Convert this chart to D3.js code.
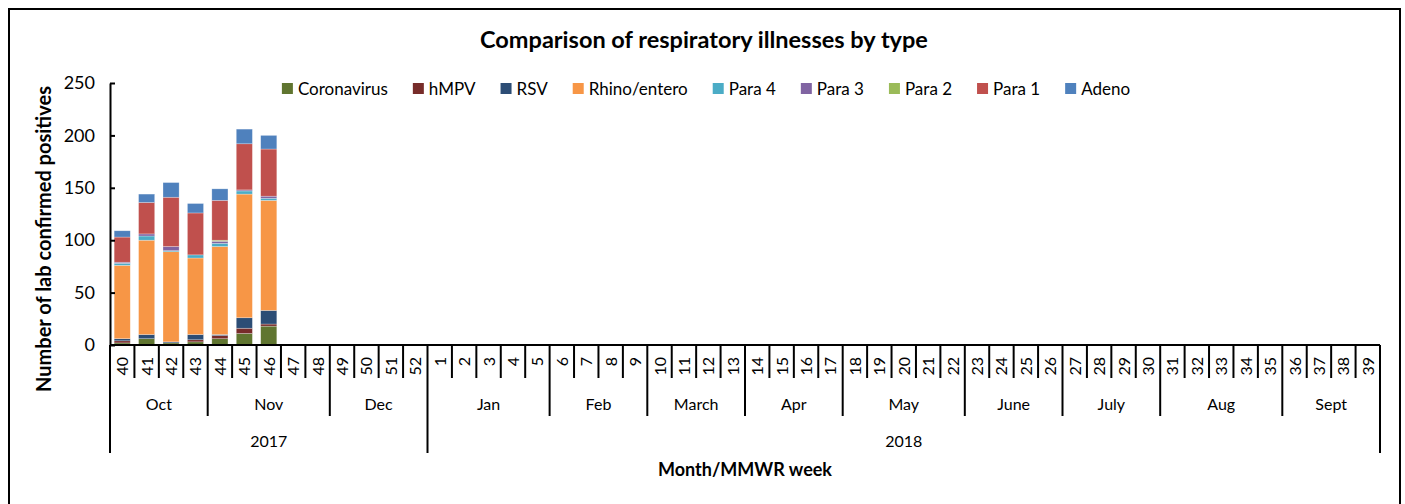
<!DOCTYPE html>
<html>
<head>
<meta charset="utf-8">
<script src="https://cdn.jsdelivr.net/npm/d3@7"></script>
<style>
  body { margin: 0; background: #fff; }
  svg text { font-family: Lato, "DejaVu Sans", sans-serif; fill: #000; }
</style>
</head>
<body>
<div id="chart"></div>
<script>
// MMWR weeks, Oct 2017 .. Sept 2018
var weeks = ["40","41","42","43","44","45","46","47","48","49","50","51","52",
             "1","2","3","4","5","6","7","8","9","10","11","12","13","14","15","16","17",
             "18","19","20","21","22","23","24","25","26","27","28","29","30",
             "31","32","33","34","35","36","37","38","39"];
var monthNames = ["Oct","Nov","Dec","Jan","Feb","March","Apr","May","June","July","Aug","Sept"];
var monthWeeks = [4, 5, 4, 5, 4, 4, 4, 5, 4, 4, 5, 4];
var yearNames = ["2017", "2018"];
var yearWeeks = [13, 39];
var yTicks = [0, 50, 100, 150, 200, 250];

// series, stacked bottom to top (weeks 40..46 reported so far)
var seriesNames = ["Coronavirus","hMPV","RSV","Rhino/entero","Para 4","Para 3","Para 2","Para 1","Adeno"];
var seriesColors = ["#607530","#772c2a","#2c4d75","#f79646","#4bacc6","#8064a2","#9bbb59","#c0504d","#4f81bd"];
var coronavirus = [2, 6, 2, 3, 6, 11, 18];
var hmpv        = [2, 0, 0, 2, 3, 5, 2];
var rsv         = [2, 4, 1, 5, 1, 10, 13];
var rhino       = [70, 90, 86, 73, 84, 118, 105];
var para4       = [2, 4, 1, 3, 3, 3, 2];
var para3       = [1, 2, 4, 0, 2, 1, 2];
var para2       = [0, 0, 0, 0, 1, 0, 0];
var para1       = [24, 30, 47, 40, 38, 44, 45];
var adeno       = [6, 8, 14, 9, 11, 14, 13];

var seriesValues = [coronavirus, hmpv, rsv, rhino, para4, para3, para2, para1, adeno];

var width = 1405, height = 504;
var margin = {left: 110, right: 25, top: 83, bottom: 159};
var x0 = margin.left, x1 = width - margin.right, yBase = height - margin.bottom;

var svg = d3.select("#chart").append("svg")
    .attr("width", width)
    .attr("height", height);

// outer frame
svg.append("rect")
    .attr("x", 9).attr("y", 9)
    .attr("width", 1391).attr("height", 510)
    .attr("fill", "none")
    .attr("stroke", "#000")
    .attr("stroke-width", 2);

// build rows for the stack
var rows = [];
for (var i = 0; i < coronavirus.length; i++) {
    var r = {week: weeks[i]};
    seriesNames.forEach(function(s, k) { r[s] = seriesValues[k][i]; });
    rows.push(r);
}
var stacked = d3.stack().keys(seriesNames)(rows);

var x = d3.scaleBand()
    .domain(weeks)
    .range([x0, x1])
    .paddingInner(0.34)
    .paddingOuter(0.17);
var xi = d3.scaleLinear().domain([0, weeks.length]).range([x0, x1]);
var y = d3.scaleLinear().domain([0, 250]).range([yBase, margin.top]);
var color = d3.scaleOrdinal().domain(seriesNames).range(seriesColors);

// bars
svg.append("g").selectAll("g")
    .data(stacked)
    .join("g")
    .attr("fill", function(d) { return color(d.key); })
  .selectAll("rect")
    .data(function(d) { return d; })
    .join("rect")
    .attr("x", function(d) { return x(d.data.week); })
    .attr("width", x.bandwidth())
    .attr("y", function(d) { return y(d[1]); })
    .attr("height", function(d) { return y(d[0]) - y(d[1]); })
    .attr("stroke", "#fff")
    .attr("stroke-opacity", 0.45)
    .attr("stroke-width", 0.6);

// y axis
var yAxis = svg.append("g")
    .attr("transform", "translate(" + x0 + ",0)")
    .call(d3.axisLeft(y).tickValues(yTicks).tickSizeInner(-5).tickSizeOuter(0).tickPadding(15));
yAxis.select(".domain").attr("stroke", "#000").attr("stroke-width", 2);
yAxis.selectAll(".tick line").attr("stroke", "#000").attr("stroke-width", 2);
yAxis.selectAll(".tick text")
    .style("font-size", "18px")
    .style("font-family", "Lato, sans-serif");

svg.append("text")
    .attr("transform", "translate(51,239) rotate(-90)")
    .attr("text-anchor", "middle")
    .style("font-size", "20px")
    .style("font-weight", "bold")
    .text("Number of lab confirmed positives");

// x axis: multi-level category axis
var xAxis = svg.append("g");
xAxis.append("line")
    .attr("x1", x0).attr("x2", x1)
    .attr("y1", yBase).attr("y2", yBase)
    .attr("stroke", "#000").attr("stroke-width", 2);

// boundaries: week ticks, month separators, year separators
var monthEdges = [0], yearEdges = [0];
monthWeeks.forEach(function(n, k) { monthEdges.push(monthEdges[k] + n); });
yearWeeks.forEach(function(n, k) { yearEdges.push(yearEdges[k] + n); });
var edges = d3.range(weeks.length + 1).map(function(i) {
    var len = 33;
    if (monthEdges.indexOf(i) >= 0) len = 71;
    if (yearEdges.indexOf(i) >= 0) len = 108;
    return {i: i, len: len};
});
xAxis.selectAll("line.sep")
    .data(edges)
    .join("line")
    .attr("class", "sep")
    .attr("x1", function(d) { return xi(d.i); })
    .attr("x2", function(d) { return xi(d.i); })
    .attr("y1", yBase)
    .attr("y2", function(d) { return yBase + d.len; })
    .attr("stroke", "#000")
    .attr("stroke-width", 2);

xAxis.selectAll("text.week")
    .data(weeks)
    .join("text")
    .attr("class", "week")
    .attr("transform", function(d) {
        return "translate(" + (x(d) + x.bandwidth() / 2 + 6) + "," + (yBase + 12) + ") rotate(-90)";
    })
    .attr("text-anchor", "end")
    .style("font-size", "16px")
    .text(function(d) { return d; });

xAxis.selectAll("text.month")
    .data(monthNames)
    .join("text")
    .attr("class", "month")
    .attr("x", function(d, k) { return (xi(monthEdges[k]) + xi(monthEdges[k + 1])) / 2; })
    .attr("y", yBase + 65)
    .attr("text-anchor", "middle")
    .style("font-size", "16px")
    .text(function(d) { return d; });

xAxis.selectAll("text.year")
    .data(yearNames)
    .join("text")
    .attr("class", "year")
    .attr("x", function(d, k) { return (xi(yearEdges[k]) + xi(yearEdges[k + 1])) / 2; })
    .attr("y", yBase + 102)
    .attr("text-anchor", "middle")
    .style("font-size", "16px")
    .text(function(d) { return d; });

svg.append("text")
    .attr("x", (x0 + x1) / 2)
    .attr("y", 476)
    .attr("text-anchor", "middle")
    .style("font-size", "18px")
    .style("font-weight", "bold")
    .text("Month/MMWR week");

// title
svg.append("text")
    .attr("x", 704)
    .attr("y", 48)
    .attr("text-anchor", "middle")
    .style("font-size", "23.5px")
    .style("font-weight", "bold")
    .text("Comparison of respiratory illnesses by type");

// legend
var legend = svg.append("g");
var item = legend.selectAll("g")
    .data(seriesNames)
    .join("g");
item.append("rect")
    .attr("width", 11).attr("height", 11)
    .attr("y", 83)
    .attr("fill", function(d) { return color(d); });
item.append("text")
    .attr("x", 16)
    .attr("y", 95)
    .style("font-size", "17px")
    .text(function(d) { return d; });
var pos = 0;
item.each(function() {
    var g = d3.select(this);
    g.attr("transform", "translate(" + pos + ",0)");
    pos += 16 + g.select("text").node().getComputedTextLength() + 25;
});
var legendWidth = pos - 25;
legend.attr("transform", "translate(" + (706 - legendWidth / 2) + ",0)");
</script>
</body>
</html>
